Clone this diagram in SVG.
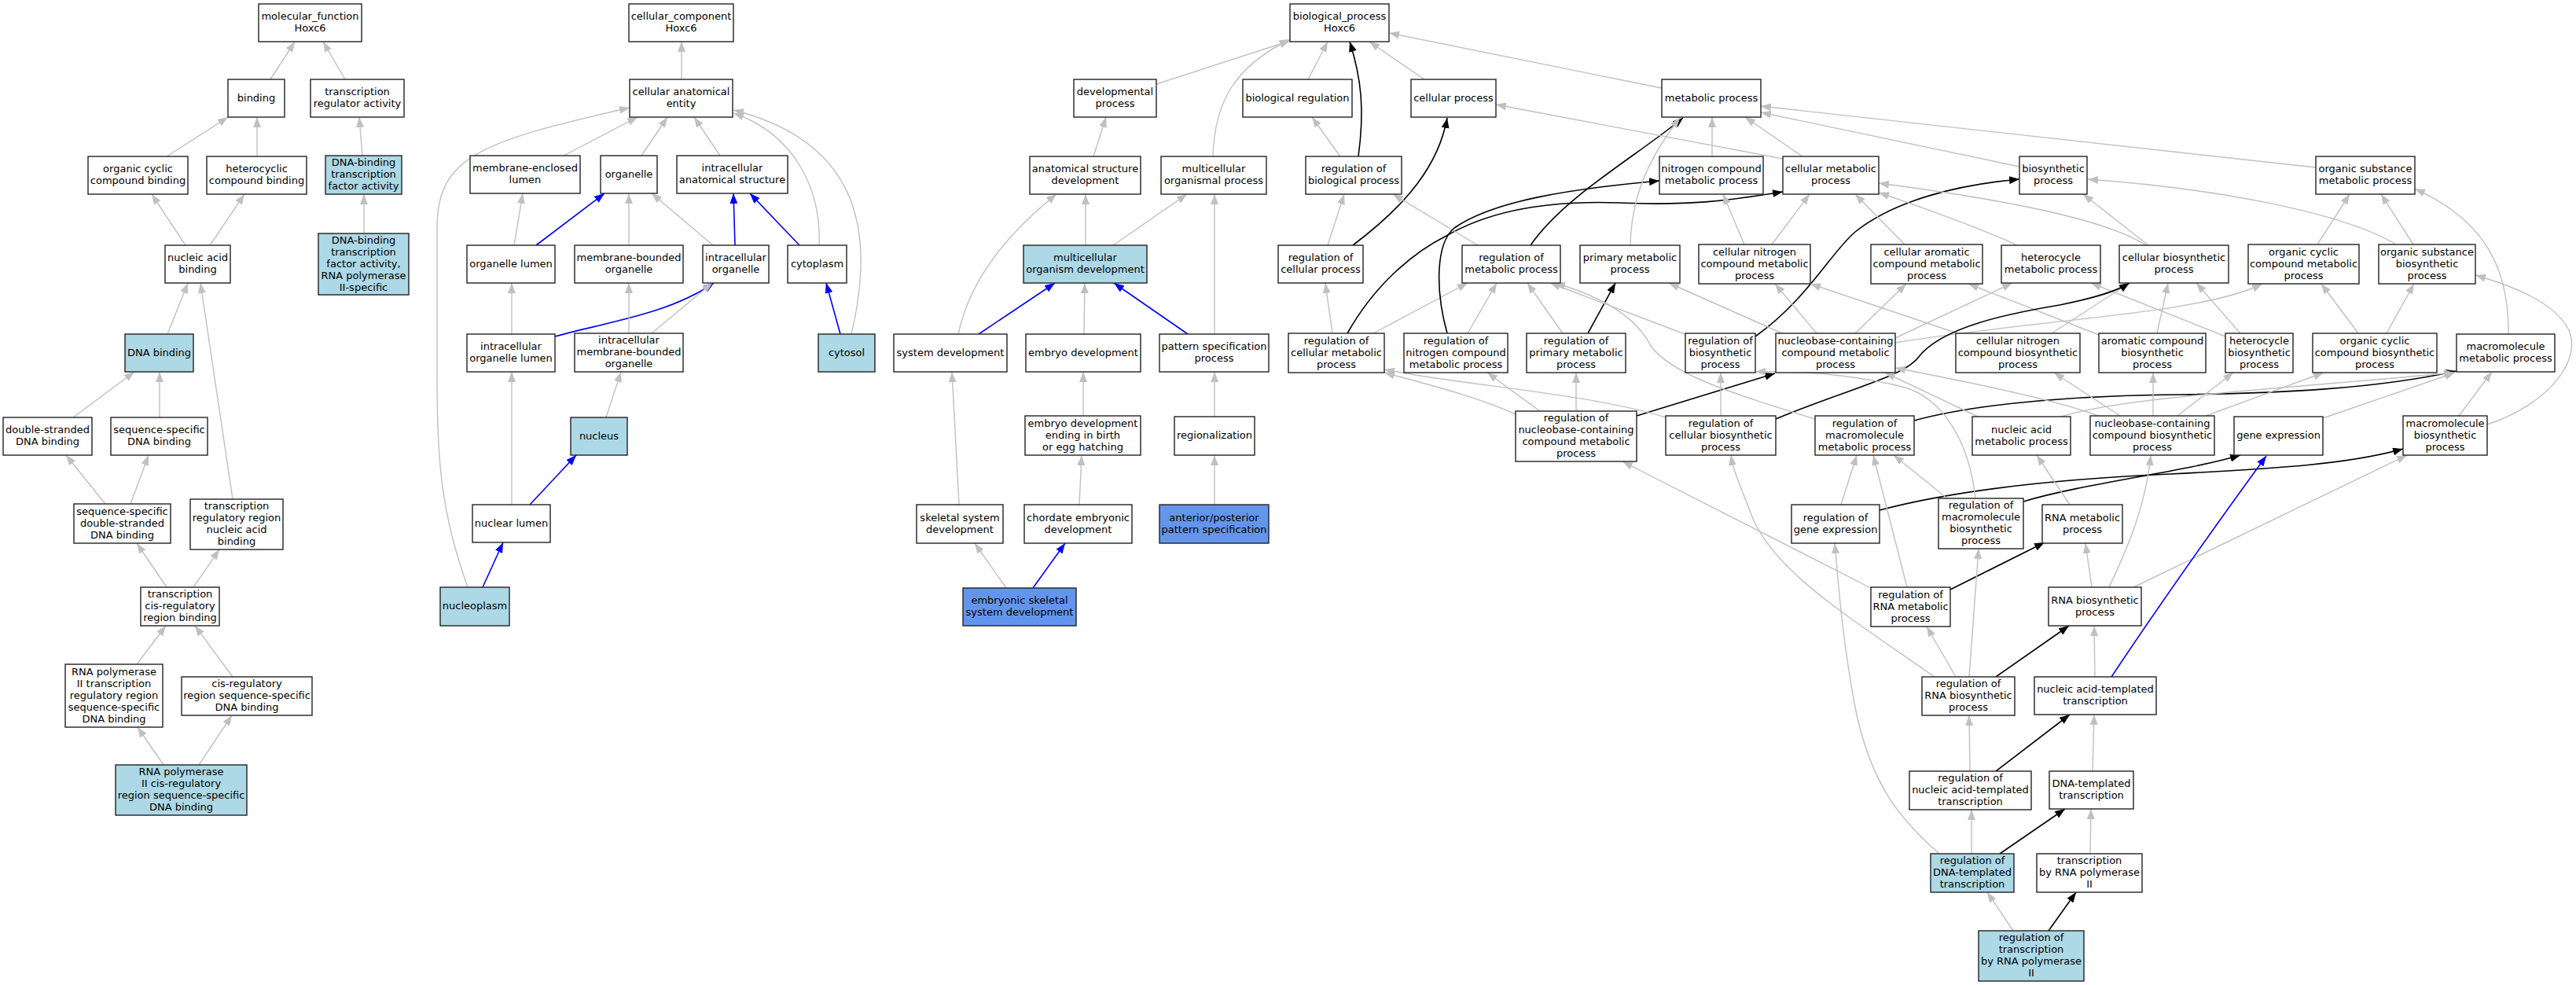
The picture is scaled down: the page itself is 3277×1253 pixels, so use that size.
<svg xmlns="http://www.w3.org/2000/svg" width="3277" height="1253" viewBox="0 0 3277 1253">
<style>
.node rect{fill:#fff;stroke:#222;stroke-width:1.4}
.node.lb rect{fill:#add8e6}
.node.cb rect{fill:#6495ed}
.node text{font-family:"DejaVu Sans","Liberation Sans",sans-serif;font-size:13px;fill:#000;text-anchor:middle}
.e{fill:none;stroke:#c0c0c0;stroke-width:1.4;marker-end:url(#ag)}
.k{fill:none;stroke:#000;stroke-width:1.6;marker-end:url(#ak)}
.b{fill:none;stroke:#0000ff;stroke-width:1.6;marker-end:url(#ab)}
</style>
<defs>
<marker id="ag" viewBox="0 0 13 10" refX="13" refY="5" markerWidth="13" markerHeight="10" markerUnits="userSpaceOnUse" orient="auto"><path d="M0,0L13,5L0,10z" fill="#c0c0c0"/></marker>
<marker id="ak" viewBox="0 0 13 10" refX="13" refY="5" markerWidth="13" markerHeight="10" markerUnits="userSpaceOnUse" orient="auto"><path d="M0,0L13,5L0,10z" fill="#000"/></marker>
<marker id="ab" viewBox="0 0 13 10" refX="13" refY="5" markerWidth="13" markerHeight="10" markerUnits="userSpaceOnUse" orient="auto"><path d="M0,0L13,5L0,10z" fill="#0000ff"/></marker>
</defs>
<rect width="3277" height="1253" fill="#fff"/>
<g id="edges">
<path class="e" d="M344,101L375,53"/>
<path class="e" d="M439,101L411,53"/>
<path class="e" d="M212,199L290,149"/>
<path class="e" d="M327,199L327,149"/>
<path class="e" d="M461,198L457,149"/>
<path class="e" d="M463,297L463,247"/>
<path class="e" d="M236,312L193,247"/>
<path class="e" d="M267,312L311,247"/>
<path class="e" d="M213,425L239,360"/>
<path class="e" d="M296,635L255,360"/>
<path class="e" d="M93,531L171,473"/>
<path class="e" d="M203,531L203,473"/>
<path class="e" d="M134,641L84,579"/>
<path class="e" d="M166,641L189,579"/>
<path class="e" d="M212,747L174,691"/>
<path class="e" d="M246,747L279,699"/>
<path class="e" d="M174,845L211,796"/>
<path class="e" d="M296,861L248,796"/>
<path class="e" d="M208,973L175,925"/>
<path class="e" d="M253,973L295,910"/>
<path class="e" d="M867,101L867,53"/>
<path class="e" d="M717,198L811,149"/>
<path class="e" d="M816,198L849,149"/>
<path class="e" d="M916,198L883,149"/>
<path class="e" d="M1042,312C1045,240 1010,170 933,144"/>
<path class="e" d="M1083,425C1115,290 1090,180 933,140"/>
<path class="e" d="M595,747C560,650 556,580 556,480L556,290C556,200 610,180 801,137"/>
<path class="e" d="M654,312L665,246"/>
<path class="b" d="M682,312L769,246"/>
<path class="e" d="M800,312L800,246"/>
<path class="e" d="M907,312L829,246"/>
<path class="b" d="M935,312L933,246"/>
<path class="b" d="M1017,312L954,246"/>
<path class="e" d="M651,425L651,360"/>
<path class="b" d="M706,428C770,410 850,400 908,360"/>
<path class="e" d="M800,424L800,360"/>
<path class="e" d="M829,424L906,360"/>
<path class="b" d="M1069,425L1051,360"/>
<path class="e" d="M771,531L790,473"/>
<path class="b" d="M674,642L733,579"/>
<path class="e" d="M651,642L651,473"/>
<path class="b" d="M614,747L640,690"/>
<path class="e" d="M1471,107L1641,52"/>
<path class="e" d="M1543,199C1545,130 1570,85 1641,50"/>
<path class="e" d="M1664,101L1689,53"/>
<path class="k" d="M1728,199C1736,140 1732,100 1717,53"/>
<path class="e" d="M1812,101L1742,53"/>
<path class="e" d="M2114,112L1767,42"/>
<path class="e" d="M1391,199L1407,149"/>
<path class="e" d="M1705,199L1669,149"/>
<path class="e" d="M1381,312L1381,247"/>
<path class="e" d="M1416,312L1510,247"/>
<path class="e" d="M1219,425C1235,350 1290,290 1344,247"/>
<path class="b" d="M1245,425L1342,360"/>
<path class="e" d="M1379,425L1380,360"/>
<path class="b" d="M1511,425L1417,360"/>
<path class="e" d="M1545,425L1545,247"/>
<path class="e" d="M1689,312L1710,247"/>
<path class="k" d="M1721,312C1790,260 1830,210 1841,150"/>
<path class="e" d="M1695,424L1686,360"/>
<path class="k" d="M1714,424C1750,360 1800,320 1840,300C1900,265 1980,255 2060,258C2150,262 2200,255 2268,244"/>
<path class="e" d="M1747,424L1867,360"/>
<path class="e" d="M1880,312L1772,247"/>
<path class="k" d="M1947,312C1990,250 2080,200 2141,150"/>
<path class="e" d="M1867,424L1904,360"/>
<path class="k" d="M1841,424C1826,370 1826,310 1850,290C1900,255 2000,240 2111,230"/>
<path class="e" d="M1988,424L1943,360"/>
<path class="k" d="M2020,424L2055,360"/>
<path class="e" d="M2146,426L1972,360"/>
<path class="k" d="M2233,428C2300,380 2330,320 2360,295C2410,255 2490,235 2569,228"/>
<path class="e" d="M2074,312C2075,260 2090,210 2137,150"/>
<path class="e" d="M2178,199L2178,149"/>
<path class="e" d="M2293,199L2220,149"/>
<path class="e" d="M2268,202L1903,133"/>
<path class="e" d="M2569,212L2240,143"/>
<path class="e" d="M2946,213L2240,135"/>
<path class="e" d="M2254,311L2302,247"/>
<path class="e" d="M2219,311L2192,247"/>
<path class="e" d="M2423,311L2360,247"/>
<path class="e" d="M2566,312C2530,295 2450,265 2390,245"/>
<path class="e" d="M2730,312C2680,280 2560,255 2390,233"/>
<path class="e" d="M2733,312L2650,247"/>
<path class="e" d="M3048,311C2980,270 2820,240 2656,228"/>
<path class="e" d="M2948,311L2989,247"/>
<path class="e" d="M3070,311L3029,247"/>
<path class="e" d="M2267,424L2123,360"/>
<path class="e" d="M2311,424L2258,361"/>
<path class="e" d="M2360,424L2425,361"/>
<path class="e" d="M2411,430L2560,360"/>
<path class="e" d="M2411,436C2600,405 2800,400 2878,361"/>
<path class="e" d="M2490,424L2303,361"/>
<path class="e" d="M2610,424L2709,360"/>
<path class="e" d="M2670,426L2504,361"/>
<path class="e" d="M2744,424L2758,360"/>
<path class="e" d="M2831,428L2660,360"/>
<path class="e" d="M2850,424L2794,360"/>
<path class="e" d="M3000,424L2953,361"/>
<path class="e" d="M3036,424L3071,361"/>
<path class="e" d="M3191,425C3192,340 3160,280 3072,240"/>
<path class="e" d="M3164,540C3240,515 3285,460 3268,420C3250,385 3200,365 3149,350"/>
<path class="e" d="M1378,529L1378,473"/>
<path class="e" d="M1545,530L1545,473"/>
<path class="e" d="M1959,523L1892,474"/>
<path class="e" d="M2005,523L2005,474"/>
<path class="e" d="M1928,527C1880,505 1820,490 1761,474"/>
<path class="k" d="M2082,529L2258,475"/>
<path class="e" d="M2189,529L2189,474"/>
<path class="e" d="M2119,531C2020,500 1860,490 1761,470"/>
<path class="k" d="M2259,533C2350,495 2420,480 2440,455C2470,415 2560,398 2620,388C2660,380 2690,372 2709,360"/>
<path class="e" d="M2309,533C2200,500 2125,475 2100,440C2080,400 2030,375 1978,360"/>
<path class="k" d="M2435,535C2520,512 2650,503 2775,502C2900,500 3020,495 3125,472"/>
<path class="e" d="M2516,530L2398,474"/>
<path class="e" d="M2622,530C2700,505 2900,495 3122,474"/>
<path class="e" d="M2669,529C2620,510 2500,485 2411,468"/>
<path class="e" d="M2697,529L2613,474"/>
<path class="e" d="M2739,529L2739,474"/>
<path class="e" d="M2770,529L2841,474"/>
<path class="e" d="M2806,529L2956,474"/>
<path class="e" d="M2955,532L3123,474"/>
<path class="e" d="M3128,529L3170,473"/>
<path class="e" d="M1220,642L1211,473"/>
<path class="e" d="M1373,642L1376,579"/>
<path class="e" d="M1545,642L1545,579"/>
<path class="e" d="M2342,642L2362,579"/>
<path class="k" d="M2391,649C2500,620 2650,608 2760,603C2900,596 2990,590 3057,571"/>
<path class="k" d="M2574,638C2650,615 2780,600 2850,579"/>
<path class="e" d="M2477,634L2409,579"/>
<path class="e" d="M2513,634C2505,560 2470,505 2420,492C2350,475 2280,472 2233,473"/>
<path class="e" d="M2633,642L2591,579"/>
<path class="e" d="M1280,748L1240,691"/>
<path class="b" d="M1314,748L1355,691"/>
<path class="e" d="M2426,747L2383,579"/>
<path class="e" d="M2380,748L2064,587"/>
<path class="k" d="M2481,750L2601,690"/>
<path class="e" d="M2661,747L2653,691"/>
<path class="e" d="M2683,747C2710,690 2730,640 2736,579"/>
<path class="e" d="M2714,747L3062,579"/>
<path class="e" d="M2488,861L2451,797"/>
<path class="e" d="M2505,861L2517,698"/>
<path class="e" d="M2461,861C2360,790 2260,730 2230,660C2215,620 2205,600 2202,579"/>
<path class="k" d="M2539,861L2632,796"/>
<path class="e" d="M2665,861L2664,796"/>
<path class="b" d="M2686,861C2730,795 2810,680 2883,580"/>
<path class="e" d="M2506,981L2505,910"/>
<path class="k" d="M2539,981L2633,909"/>
<path class="e" d="M2662,981L2664,909"/>
<path class="e" d="M2508,1086L2508,1030"/>
<path class="k" d="M2544,1086L2627,1029"/>
<path class="e" d="M2467,1086C2420,1045 2380,1000 2360,900C2345,820 2340,760 2334,691"/>
<path class="e" d="M2659,1086L2660,1029"/>
<path class="e" d="M2561,1184L2528,1135"/>
<path class="k" d="M2606,1184L2641,1135"/>
</g>
<g id="n_mf" class="node"><rect x="329" y="5" width="131" height="48"/><text><tspan x="394.5" y="25">molecular_function</tspan><tspan x="394.5" y="40">Hoxc6</tspan></text></g>
<g id="n_binding" class="node"><rect x="290" y="101" width="72" height="48"/><text><tspan x="326" y="128.5">binding</tspan></text></g>
<g id="n_tra" class="node"><rect x="395" y="101" width="119" height="48"/><text><tspan x="454.5" y="121">transcription</tspan><tspan x="454.5" y="136">regulator activity</tspan></text></g>
<g id="n_occb" class="node"><rect x="112" y="199" width="127" height="48"/><text><tspan x="175.5" y="219">organic cyclic</tspan><tspan x="175.5" y="234">compound binding</tspan></text></g>
<g id="n_hcb" class="node"><rect x="263" y="199" width="127" height="48"/><text><tspan x="326.5" y="219">heterocyclic</tspan><tspan x="326.5" y="234">compound binding</tspan></text></g>
<g id="n_dbtf" class="node lb"><rect x="414" y="198" width="97" height="49"/><text><tspan x="462.5" y="211">DNA-binding</tspan><tspan x="462.5" y="226">transcription</tspan><tspan x="462.5" y="241">factor activity</tspan></text></g>
<g id="n_nab" class="node"><rect x="210" y="312" width="83" height="48"/><text><tspan x="251.5" y="332">nucleic acid</tspan><tspan x="251.5" y="347">binding</tspan></text></g>
<g id="n_dbtf2" class="node lb"><rect x="405" y="297" width="115" height="78"/><text><tspan x="462.5" y="309.5">DNA-binding</tspan><tspan x="462.5" y="324.5">transcription</tspan><tspan x="462.5" y="339.5">factor activity,</tspan><tspan x="462.5" y="354.5">RNA polymerase</tspan><tspan x="462.5" y="369.5">II-specific</tspan></text></g>
<g id="n_dnab" class="node lb"><rect x="159" y="425" width="87" height="48"/><text><tspan x="202.5" y="452.5">DNA binding</tspan></text></g>
<g id="n_dsdb" class="node"><rect x="4" y="531" width="113" height="48"/><text><tspan x="60.5" y="551">double-stranded</tspan><tspan x="60.5" y="566">DNA binding</tspan></text></g>
<g id="n_ssdb" class="node"><rect x="141" y="531" width="123" height="48"/><text><tspan x="202.5" y="551">sequence-specific</tspan><tspan x="202.5" y="566">DNA binding</tspan></text></g>
<g id="n_ssds" class="node"><rect x="94" y="641" width="123" height="50"/><text><tspan x="155.5" y="654.5">sequence-specific</tspan><tspan x="155.5" y="669.5">double-stranded</tspan><tspan x="155.5" y="684.5">DNA binding</tspan></text></g>
<g id="n_trr" class="node"><rect x="242" y="635" width="118" height="64"/><text><tspan x="301" y="648">transcription</tspan><tspan x="301" y="663">regulatory region</tspan><tspan x="301" y="678">nucleic acid</tspan><tspan x="301" y="693">binding</tspan></text></g>
<g id="n_tcrb" class="node"><rect x="179" y="747" width="100" height="49"/><text><tspan x="229" y="760">transcription</tspan><tspan x="229" y="775">cis-regulatory</tspan><tspan x="229" y="790">region binding</tspan></text></g>
<g id="n_rp2trr" class="node"><rect x="83" y="845" width="124" height="80"/><text><tspan x="145" y="858.5">RNA polymerase</tspan><tspan x="145" y="873.5">II transcription</tspan><tspan x="145" y="888.5">regulatory region</tspan><tspan x="145" y="903.5">sequence-specific</tspan><tspan x="145" y="918.5">DNA binding</tspan></text></g>
<g id="n_crss" class="node"><rect x="231" y="861" width="166" height="49"/><text><tspan x="314" y="874">cis-regulatory</tspan><tspan x="314" y="889">region sequence-specific</tspan><tspan x="314" y="904">DNA binding</tspan></text></g>
<g id="n_rp2cr" class="node lb"><rect x="147" y="973" width="167" height="64"/><text><tspan x="230.5" y="986">RNA polymerase</tspan><tspan x="230.5" y="1001">II cis-regulatory</tspan><tspan x="230.5" y="1016">region sequence-specific</tspan><tspan x="230.5" y="1031">DNA binding</tspan></text></g>
<g id="n_cc" class="node"><rect x="800" y="5" width="133" height="48"/><text><tspan x="866.5" y="25">cellular_component</tspan><tspan x="866.5" y="40">Hoxc6</tspan></text></g>
<g id="n_cae" class="node"><rect x="801" y="101" width="131" height="48"/><text><tspan x="866.5" y="121">cellular anatomical</tspan><tspan x="866.5" y="136">entity</tspan></text></g>
<g id="n_mel" class="node"><rect x="598" y="198" width="140" height="48"/><text><tspan x="668" y="218">membrane-enclosed</tspan><tspan x="668" y="233">lumen</tspan></text></g>
<g id="n_org" class="node"><rect x="764" y="198" width="72" height="48"/><text><tspan x="800" y="225.5">organelle</tspan></text></g>
<g id="n_ias" class="node"><rect x="861" y="198" width="141" height="48"/><text><tspan x="931.5" y="218">intracellular</tspan><tspan x="931.5" y="233">anatomical structure</tspan></text></g>
<g id="n_ol" class="node"><rect x="594" y="312" width="112" height="48"/><text><tspan x="650" y="339.5">organelle lumen</tspan></text></g>
<g id="n_mbo" class="node"><rect x="731" y="312" width="138" height="48"/><text><tspan x="800" y="332">membrane-bounded</tspan><tspan x="800" y="347">organelle</tspan></text></g>
<g id="n_io" class="node"><rect x="894" y="312" width="84" height="48"/><text><tspan x="936" y="332">intracellular</tspan><tspan x="936" y="347">organelle</tspan></text></g>
<g id="n_cyto" class="node"><rect x="1002" y="312" width="75" height="48"/><text><tspan x="1039.5" y="339.5">cytoplasm</tspan></text></g>
<g id="n_iol" class="node"><rect x="594" y="425" width="112" height="48"/><text><tspan x="650" y="445">intracellular</tspan><tspan x="650" y="460">organelle lumen</tspan></text></g>
<g id="n_imbo" class="node"><rect x="731" y="424" width="138" height="49"/><text><tspan x="800" y="437">intracellular</tspan><tspan x="800" y="452">membrane-bounded</tspan><tspan x="800" y="467">organelle</tspan></text></g>
<g id="n_cytosol" class="node lb"><rect x="1041" y="425" width="72" height="48"/><text><tspan x="1077" y="452.5">cytosol</tspan></text></g>
<g id="n_nucleus" class="node lb"><rect x="726" y="531" width="72" height="48"/><text><tspan x="762" y="558.5">nucleus</tspan></text></g>
<g id="n_nl" class="node"><rect x="601" y="642" width="99" height="48"/><text><tspan x="650.5" y="669.5">nuclear lumen</tspan></text></g>
<g id="n_np" class="node lb"><rect x="560" y="747" width="88" height="49"/><text><tspan x="604" y="775">nucleoplasm</tspan></text></g>
<g id="n_bp" class="node"><rect x="1641" y="5" width="126" height="48"/><text><tspan x="1704" y="25">biological_process</tspan><tspan x="1704" y="40">Hoxc6</tspan></text></g>
<g id="n_dev" class="node"><rect x="1366" y="101" width="105" height="48"/><text><tspan x="1418.5" y="121">developmental</tspan><tspan x="1418.5" y="136">process</tspan></text></g>
<g id="n_breg" class="node"><rect x="1581" y="101" width="139" height="48"/><text><tspan x="1650.5" y="128.5">biological regulation</tspan></text></g>
<g id="n_cp" class="node"><rect x="1795" y="101" width="108" height="48"/><text><tspan x="1849" y="128.5">cellular process</tspan></text></g>
<g id="n_mp" class="node"><rect x="2114" y="101" width="126" height="48"/><text><tspan x="2177" y="128.5">metabolic process</tspan></text></g>
<g id="n_asd" class="node"><rect x="1310" y="199" width="141" height="48"/><text><tspan x="1380.5" y="219">anatomical structure</tspan><tspan x="1380.5" y="234">development</tspan></text></g>
<g id="n_mop" class="node"><rect x="1477" y="199" width="134" height="48"/><text><tspan x="1544" y="219">multicellular</tspan><tspan x="1544" y="234">organismal process</tspan></text></g>
<g id="n_rbp" class="node"><rect x="1661" y="199" width="122" height="48"/><text><tspan x="1722" y="219">regulation of</tspan><tspan x="1722" y="234">biological process</tspan></text></g>
<g id="n_ncmp" class="node"><rect x="2111" y="199" width="132" height="48"/><text><tspan x="2177" y="219">nitrogen compound</tspan><tspan x="2177" y="234">metabolic process</tspan></text></g>
<g id="n_cmp" class="node"><rect x="2268" y="199" width="122" height="48"/><text><tspan x="2329" y="219">cellular metabolic</tspan><tspan x="2329" y="234">process</tspan></text></g>
<g id="n_bsp" class="node"><rect x="2569" y="199" width="86" height="48"/><text><tspan x="2612" y="219">biosynthetic</tspan><tspan x="2612" y="234">process</tspan></text></g>
<g id="n_osmp" class="node"><rect x="2946" y="199" width="126" height="48"/><text><tspan x="3009" y="219">organic substance</tspan><tspan x="3009" y="234">metabolic process</tspan></text></g>
<g id="n_mod" class="node lb"><rect x="1302" y="312" width="157" height="48"/><text><tspan x="1380.5" y="332">multicellular</tspan><tspan x="1380.5" y="347">organism development</tspan></text></g>
<g id="n_rcp" class="node"><rect x="1626" y="312" width="108" height="48"/><text><tspan x="1680" y="332">regulation of</tspan><tspan x="1680" y="347">cellular process</tspan></text></g>
<g id="n_rmp" class="node"><rect x="1860" y="312" width="125" height="48"/><text><tspan x="1922.5" y="332">regulation of</tspan><tspan x="1922.5" y="347">metabolic process</tspan></text></g>
<g id="n_pmp" class="node"><rect x="2010" y="312" width="127" height="48"/><text><tspan x="2073.5" y="332">primary metabolic</tspan><tspan x="2073.5" y="347">process</tspan></text></g>
<g id="n_cncmp" class="node"><rect x="2161" y="311" width="142" height="50"/><text><tspan x="2232" y="324.5">cellular nitrogen</tspan><tspan x="2232" y="339.5">compound metabolic</tspan><tspan x="2232" y="354.5">process</tspan></text></g>
<g id="n_cacmp" class="node"><rect x="2380" y="311" width="142" height="50"/><text><tspan x="2451" y="324.5">cellular aromatic</tspan><tspan x="2451" y="339.5">compound metabolic</tspan><tspan x="2451" y="354.5">process</tspan></text></g>
<g id="n_hmp" class="node"><rect x="2546" y="312" width="126" height="48"/><text><tspan x="2609" y="332">heterocycle</tspan><tspan x="2609" y="347">metabolic process</tspan></text></g>
<g id="n_cbp" class="node"><rect x="2696" y="312" width="139" height="48"/><text><tspan x="2765.5" y="332">cellular biosynthetic</tspan><tspan x="2765.5" y="347">process</tspan></text></g>
<g id="n_occmp" class="node"><rect x="2860" y="311" width="141" height="50"/><text><tspan x="2930.5" y="324.5">organic cyclic</tspan><tspan x="2930.5" y="339.5">compound metabolic</tspan><tspan x="2930.5" y="354.5">process</tspan></text></g>
<g id="n_osbp" class="node"><rect x="3026" y="311" width="123" height="50"/><text><tspan x="3087.5" y="324.5">organic substance</tspan><tspan x="3087.5" y="339.5">biosynthetic</tspan><tspan x="3087.5" y="354.5">process</tspan></text></g>
<g id="n_sd" class="node"><rect x="1137" y="425" width="144" height="48"/><text><tspan x="1209" y="452.5">system development</tspan></text></g>
<g id="n_ed" class="node"><rect x="1305" y="425" width="146" height="48"/><text><tspan x="1378" y="452.5">embryo development</tspan></text></g>
<g id="n_psp" class="node"><rect x="1475" y="425" width="139" height="48"/><text><tspan x="1544.5" y="445">pattern specification</tspan><tspan x="1544.5" y="460">process</tspan></text></g>
<g id="n_rcmp" class="node"><rect x="1639" y="424" width="122" height="50"/><text><tspan x="1700" y="437.5">regulation of</tspan><tspan x="1700" y="452.5">cellular metabolic</tspan><tspan x="1700" y="467.5">process</tspan></text></g>
<g id="n_rncmp" class="node"><rect x="1786" y="424" width="132" height="50"/><text><tspan x="1852" y="437.5">regulation of</tspan><tspan x="1852" y="452.5">nitrogen compound</tspan><tspan x="1852" y="467.5">metabolic process</tspan></text></g>
<g id="n_rpmp" class="node"><rect x="1942" y="424" width="126" height="50"/><text><tspan x="2005" y="437.5">regulation of</tspan><tspan x="2005" y="452.5">primary metabolic</tspan><tspan x="2005" y="467.5">process</tspan></text></g>
<g id="n_rbsp" class="node"><rect x="2144" y="424" width="89" height="50"/><text><tspan x="2188.5" y="437.5">regulation of</tspan><tspan x="2188.5" y="452.5">biosynthetic</tspan><tspan x="2188.5" y="467.5">process</tspan></text></g>
<g id="n_nbcmp" class="node"><rect x="2259" y="424" width="152" height="50"/><text><tspan x="2335" y="437.5">nucleobase-containing</tspan><tspan x="2335" y="452.5">compound metabolic</tspan><tspan x="2335" y="467.5">process</tspan></text></g>
<g id="n_cncbp" class="node"><rect x="2488" y="424" width="158" height="50"/><text><tspan x="2567" y="437.5">cellular nitrogen</tspan><tspan x="2567" y="452.5">compound biosynthetic</tspan><tspan x="2567" y="467.5">process</tspan></text></g>
<g id="n_acbp" class="node"><rect x="2670" y="424" width="136" height="50"/><text><tspan x="2738" y="437.5">aromatic compound</tspan><tspan x="2738" y="452.5">biosynthetic</tspan><tspan x="2738" y="467.5">process</tspan></text></g>
<g id="n_hbp" class="node"><rect x="2831" y="424" width="86" height="50"/><text><tspan x="2874" y="437.5">heterocycle</tspan><tspan x="2874" y="452.5">biosynthetic</tspan><tspan x="2874" y="467.5">process</tspan></text></g>
<g id="n_occbp" class="node"><rect x="2942" y="424" width="158" height="50"/><text><tspan x="3021" y="437.5">organic cyclic</tspan><tspan x="3021" y="452.5">compound biosynthetic</tspan><tspan x="3021" y="467.5">process</tspan></text></g>
<g id="n_mmp" class="node"><rect x="3125" y="425" width="125" height="48"/><text><tspan x="3187.5" y="445">macromolecule</tspan><tspan x="3187.5" y="460">metabolic process</tspan></text></g>
<g id="n_edeb" class="node"><rect x="1304" y="529" width="147" height="50"/><text><tspan x="1377.5" y="542.5">embryo development</tspan><tspan x="1377.5" y="557.5">ending in birth</tspan><tspan x="1377.5" y="572.5">or egg hatching</tspan></text></g>
<g id="n_reg" class="node"><rect x="1494" y="530" width="102" height="49"/><text><tspan x="1545" y="558">regionalization</tspan></text></g>
<g id="n_rnbc" class="node"><rect x="1928" y="523" width="154" height="64"/><text><tspan x="2005" y="536">regulation of</tspan><tspan x="2005" y="551">nucleobase-containing</tspan><tspan x="2005" y="566">compound metabolic</tspan><tspan x="2005" y="581">process</tspan></text></g>
<g id="n_rcbp" class="node"><rect x="2119" y="529" width="140" height="50"/><text><tspan x="2189" y="542.5">regulation of</tspan><tspan x="2189" y="557.5">cellular biosynthetic</tspan><tspan x="2189" y="572.5">process</tspan></text></g>
<g id="n_rmmp" class="node"><rect x="2309" y="529" width="126" height="50"/><text><tspan x="2372" y="542.5">regulation of</tspan><tspan x="2372" y="557.5">macromolecule</tspan><tspan x="2372" y="572.5">metabolic process</tspan></text></g>
<g id="n_namp" class="node"><rect x="2509" y="530" width="125" height="49"/><text><tspan x="2571.5" y="550.5">nucleic acid</tspan><tspan x="2571.5" y="565.5">metabolic process</tspan></text></g>
<g id="n_nbcbp" class="node"><rect x="2659" y="529" width="158" height="50"/><text><tspan x="2738" y="542.5">nucleobase-containing</tspan><tspan x="2738" y="557.5">compound biosynthetic</tspan><tspan x="2738" y="572.5">process</tspan></text></g>
<g id="n_ge" class="node"><rect x="2842" y="530" width="113" height="49"/><text><tspan x="2898.5" y="558">gene expression</tspan></text></g>
<g id="n_mbp" class="node"><rect x="3057" y="529" width="107" height="50"/><text><tspan x="3110.5" y="542.5">macromolecule</tspan><tspan x="3110.5" y="557.5">biosynthetic</tspan><tspan x="3110.5" y="572.5">process</tspan></text></g>
<g id="n_ssd" class="node"><rect x="1166" y="642" width="110" height="49"/><text><tspan x="1221" y="662.5">skeletal system</tspan><tspan x="1221" y="677.5">development</tspan></text></g>
<g id="n_ced" class="node"><rect x="1303" y="642" width="137" height="49"/><text><tspan x="1371.5" y="662.5">chordate embryonic</tspan><tspan x="1371.5" y="677.5">development</tspan></text></g>
<g id="n_aps" class="node cb"><rect x="1475" y="642" width="139" height="49"/><text><tspan x="1544.5" y="662.5">anterior/posterior</tspan><tspan x="1544.5" y="677.5">pattern specification</tspan></text></g>
<g id="n_rge" class="node"><rect x="2279" y="642" width="112" height="49"/><text><tspan x="2335" y="662.5">regulation of</tspan><tspan x="2335" y="677.5">gene expression</tspan></text></g>
<g id="n_rmbp" class="node"><rect x="2466" y="634" width="108" height="64"/><text><tspan x="2520" y="647">regulation of</tspan><tspan x="2520" y="662">macromolecule</tspan><tspan x="2520" y="677">biosynthetic</tspan><tspan x="2520" y="692">process</tspan></text></g>
<g id="n_rmp2" class="node"><rect x="2598" y="642" width="102" height="49"/><text><tspan x="2649" y="662.5">RNA metabolic</tspan><tspan x="2649" y="677.5">process</tspan></text></g>
<g id="n_essd" class="node cb"><rect x="1225" y="748" width="144" height="48"/><text><tspan x="1297" y="768">embryonic skeletal</tspan><tspan x="1297" y="783">system development</tspan></text></g>
<g id="n_rrmp" class="node"><rect x="2380" y="747" width="101" height="50"/><text><tspan x="2430.5" y="760.5">regulation of</tspan><tspan x="2430.5" y="775.5">RNA metabolic</tspan><tspan x="2430.5" y="790.5">process</tspan></text></g>
<g id="n_rbp2" class="node"><rect x="2606" y="747" width="118" height="49"/><text><tspan x="2665" y="768">RNA biosynthetic</tspan><tspan x="2665" y="783">process</tspan></text></g>
<g id="n_rrbp" class="node"><rect x="2445" y="861" width="118" height="49"/><text><tspan x="2504" y="874">regulation of</tspan><tspan x="2504" y="889">RNA biosynthetic</tspan><tspan x="2504" y="904">process</tspan></text></g>
<g id="n_natt" class="node"><rect x="2588" y="861" width="155" height="48"/><text><tspan x="2665.5" y="881">nucleic acid-templated</tspan><tspan x="2665.5" y="896">transcription</tspan></text></g>
<g id="n_rnatt" class="node"><rect x="2429" y="981" width="155" height="49"/><text><tspan x="2506.5" y="994">regulation of</tspan><tspan x="2506.5" y="1009">nucleic acid-templated</tspan><tspan x="2506.5" y="1024">transcription</tspan></text></g>
<g id="n_dtt" class="node"><rect x="2607" y="981" width="107" height="48"/><text><tspan x="2660.5" y="1001">DNA-templated</tspan><tspan x="2660.5" y="1016">transcription</tspan></text></g>
<g id="n_rdtt" class="node lb"><rect x="2456" y="1086" width="106" height="49"/><text><tspan x="2509" y="1099">regulation of</tspan><tspan x="2509" y="1114">DNA-templated</tspan><tspan x="2509" y="1129">transcription</tspan></text></g>
<g id="n_trp2" class="node"><rect x="2591" y="1086" width="134" height="49"/><text><tspan x="2658" y="1099">transcription</tspan><tspan x="2658" y="1114">by RNA polymerase</tspan><tspan x="2658" y="1129">II</tspan></text></g>
<g id="n_rtrp2" class="node lb"><rect x="2517" y="1184" width="134" height="64"/><text><tspan x="2584" y="1197">regulation of</tspan><tspan x="2584" y="1212">transcription</tspan><tspan x="2584" y="1227">by RNA polymerase</tspan><tspan x="2584" y="1242">II</tspan></text></g>
</svg>
